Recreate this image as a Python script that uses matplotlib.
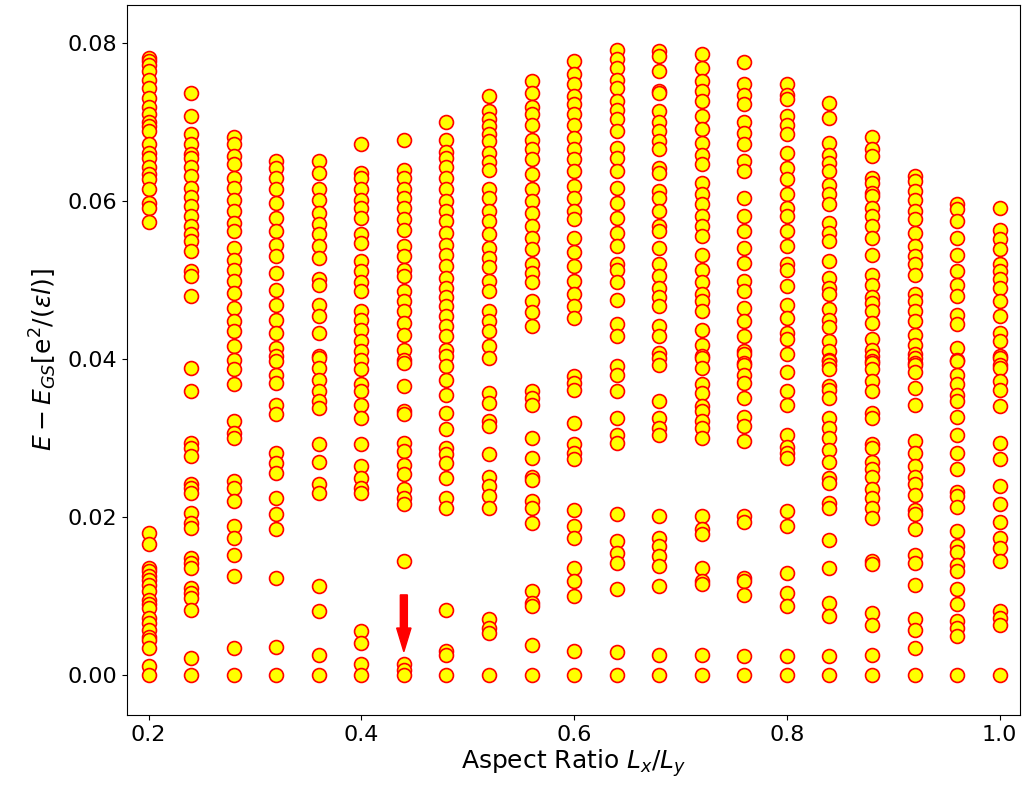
import numpy as np
import matplotlib
matplotlib.use("Agg")
import matplotlib.pyplot as plt

# energy levels above ground state, in units of 1e-3 e^2/(eps l)
e_020 = [78.2, 77.8, 77.3, 76.5, 75.4, 74.4, 73.1, 72.0, 71.0, 70.0, 69.5, 68.9, 67.2, 66.1,
         65.5, 64.4, 63.5, 62.8, 61.5, 59.8, 59.2, 57.4, 18.0, 16.5, 13.5, 13.1, 12.5, 12.0,
         11.4, 10.6, 9.5, 9.0, 8.5, 7.2, 6.6, 5.7, 4.8, 4.4, 3.4, 1.1, 0.0]
e_024 = [73.7, 70.8, 68.5, 67.2, 66.0, 65.5, 64.4, 63.2, 61.7, 60.5, 59.4, 58.1, 56.8, 55.8,
         54.9, 53.7, 51.1, 50.5, 48.0, 38.9, 35.9, 29.4, 28.7, 27.7, 24.1, 23.7, 23.0, 20.5,
         19.2, 18.6, 14.8, 14.2, 13.5, 11.0, 10.4, 9.7, 8.2, 2.1, 0.0]
e_028 = [68.2, 67.2, 65.7, 64.7, 63.0, 61.7, 60.2, 58.7, 57.3, 56.2, 54.1, 52.6, 51.3, 49.9,
         48.4, 46.5, 44.8, 43.5, 41.6, 39.9, 38.7, 36.8, 32.1, 30.6, 30.0, 24.5, 23.7, 22.0,
         18.8, 17.3, 15.2, 12.5, 3.4, 0.0]
e_032 = [65.1, 64.2, 63.0, 61.5, 59.8, 57.9, 56.2, 54.5, 53.0, 50.9, 48.8, 46.9, 45.0, 43.3,
         41.4, 40.4, 39.7, 38.0, 37.0, 34.2, 33.0, 28.1, 26.8, 25.6, 22.4, 20.3, 18.4, 12.3,
         3.5, 0.0]
e_036 = [65.1, 63.6, 61.5, 60.2, 58.5, 57.1, 55.8, 54.3, 52.8, 50.1, 49.4, 46.9, 45.4, 43.3,
         40.4, 40.1, 38.9, 37.4, 35.9, 34.7, 33.8, 29.2, 27.0, 24.1, 23.0, 11.2, 8.0, 2.5, 0.0]
e_040 = [67.2, 63.6, 63.0, 61.5, 60.2, 59.2, 57.9, 55.8, 54.7, 52.4, 51.1, 49.7, 48.6, 46.1,
         45.0, 43.7, 42.3, 41.0, 39.9, 38.7, 36.8, 35.9, 34.2, 32.5, 29.2, 26.4, 24.9, 23.7,
         23.0, 5.5, 4.0, 1.3, 0.0]
e_044 = [67.8, 64.0, 63.0, 61.5, 60.4, 59.2, 57.7, 56.4, 54.3, 53.0, 51.3, 50.5, 48.6, 47.3,
         46.1, 44.6, 43.1, 41.2, 39.9, 39.5, 36.6, 33.4, 33.0, 29.4, 28.3, 26.6, 25.4, 23.5,
         22.4, 21.6, 14.4, 1.3, 0.6, 0.0]
e_048 = [70.1, 67.8, 66.3, 65.5, 64.4, 63.0, 61.5, 60.0, 58.7, 57.5, 56.0, 54.5, 53.2, 51.8,
         50.3, 49.0, 47.8, 46.7, 45.4, 44.2, 42.9, 41.2, 40.4, 39.1, 37.4, 35.5, 33.2, 31.1,
         28.7, 27.9, 26.8, 24.9, 22.4, 21.1, 8.2, 3.0, 2.5, 0.0]
e_052 = [73.3, 71.4, 70.4, 69.5, 68.5, 67.6, 66.1, 65.0, 64.0, 61.5, 60.4, 58.7, 57.5, 55.8,
         54.1, 52.8, 51.6, 49.9, 48.6, 46.1, 44.8, 43.5, 41.6, 40.1, 35.7, 34.4, 32.1, 31.5,
         27.9, 25.1, 23.9, 22.6, 21.1, 7.0, 5.9, 5.3, 0.0]
e_056 = [75.2, 73.7, 72.0, 71.0, 69.7, 67.8, 66.6, 65.3, 63.4, 61.5, 60.0, 58.5, 56.8, 55.4,
         53.9, 52.0, 50.9, 49.7, 47.3, 45.9, 44.2, 35.9, 35.1, 34.2, 30.0, 27.5, 25.1, 24.7,
         22.0, 21.1, 19.2, 10.6, 9.1, 8.7, 3.8, 0.0]
e_060 = [77.8, 76.1, 74.8, 73.3, 72.3, 71.0, 69.7, 68.0, 66.6, 65.3, 63.8, 61.9, 60.4, 58.7,
         57.7, 55.4, 53.5, 51.8, 49.9, 48.2, 46.7, 45.2, 37.8, 37.0, 36.1, 31.9, 29.2, 28.1,
         27.3, 20.9, 18.8, 17.3, 13.5, 11.8, 9.9, 3.0, 0.0]
e_064 = [79.2, 78.0, 76.9, 75.4, 74.4, 72.7, 71.6, 70.4, 68.9, 66.8, 65.5, 63.8, 61.7, 59.8,
         57.9, 56.0, 54.3, 52.0, 51.3, 49.7, 47.5, 44.4, 42.9, 39.1, 38.0, 35.9, 32.5, 30.4,
         29.4, 20.3, 16.9, 15.4, 14.2, 10.8, 2.8, 0.0]
e_068 = [79.0, 78.4, 76.5, 74.0, 73.7, 71.4, 70.1, 68.9, 67.6, 66.6, 64.2, 63.6, 61.3, 60.4,
         58.7, 56.8, 56.2, 54.1, 52.0, 50.5, 49.0, 47.8, 46.7, 44.2, 42.9, 40.8, 40.1, 39.3,
         34.7, 32.5, 31.3, 30.4, 20.1, 17.3, 16.3, 15.0, 13.7, 11.2, 2.5, 0.0]
e_072 = [78.6, 76.9, 75.2, 74.0, 72.7, 70.8, 69.1, 67.4, 65.9, 64.7, 62.3, 60.9, 59.6, 58.1,
         56.8, 55.6, 53.2, 51.3, 49.7, 48.2, 47.3, 46.1, 43.7, 41.8, 40.4, 40.1, 38.9, 36.8,
         35.7, 34.0, 33.4, 32.1, 31.3, 30.0, 20.1, 18.4, 17.8, 13.5, 11.8, 11.5, 2.5, 0.0]
e_076 = [77.6, 74.8, 73.5, 72.3, 70.1, 68.7, 67.2, 65.1, 63.8, 60.4, 58.1, 56.2, 54.1, 52.2,
         49.9, 48.6, 46.5, 44.8, 42.9, 41.0, 40.6, 39.5, 39.3, 38.0, 37.0, 35.1, 32.7, 31.5,
         29.6, 20.1, 19.4, 12.3, 11.8, 10.1, 2.3, 0.0]
e_080 = [74.8, 73.5, 72.9, 70.8, 69.7, 68.5, 66.1, 64.2, 62.8, 60.9, 59.2, 58.1, 56.2, 54.3,
         52.0, 51.3, 49.2, 46.9, 45.2, 43.3, 42.5, 40.6, 38.3, 35.9, 34.2, 30.4, 28.9, 28.1,
         27.5, 20.7, 18.8, 12.9, 10.4, 8.7, 2.3, 0.0]
e_084 = [72.5, 70.6, 67.4, 65.9, 64.9, 63.8, 62.1, 60.9, 59.6, 57.3, 56.0, 54.9, 52.4, 50.3,
         49.0, 48.2, 46.3, 45.0, 44.0, 42.3, 41.0, 39.9, 39.7, 39.3, 38.7, 36.6, 36.1, 35.1,
         32.5, 31.3, 30.0, 28.5, 27.0, 24.9, 24.3, 21.8, 21.1, 17.1, 13.5, 9.1, 7.4, 2.3, 0.0]
e_088 = [68.2, 66.6, 65.7, 63.0, 62.3, 61.1, 60.6, 59.2, 58.1, 56.8, 55.4, 53.2, 50.7, 49.4,
         47.8, 47.1, 46.1, 44.6, 42.5, 41.2, 40.4, 39.7, 39.5, 38.7, 37.2, 35.9, 33.2, 32.5,
         29.2, 28.7, 27.0, 26.0, 25.1, 23.5, 22.4, 21.1, 19.9, 14.4, 14.0, 7.8, 6.3, 2.5, 0.0]
e_092 = [63.2, 62.5, 61.3, 60.2, 58.7, 57.7, 56.0, 54.3, 53.0, 52.0, 50.7, 48.2, 47.3, 46.1,
         44.8, 43.1, 41.8, 40.6, 40.1, 39.5, 39.3, 38.3, 36.3, 34.2, 29.6, 28.1, 26.4, 25.1,
         24.1, 22.8, 20.9, 20.3, 18.4, 15.2, 14.2, 11.4, 7.0, 5.7, 3.4, 0.0]
e_096 = [59.6, 59.0, 57.5, 55.4, 53.2, 51.1, 49.4, 48.0, 45.6, 44.4, 41.4, 39.9, 39.7, 38.0,
         36.8, 35.5, 34.7, 32.7, 30.4, 28.1, 26.0, 23.2, 22.6, 21.3, 18.2, 16.3, 15.6, 13.9,
         13.1, 10.8, 8.9, 6.8, 5.9, 4.9, 0.0]
e_100 = [59.2, 56.4, 55.2, 53.9, 52.0, 51.1, 50.1, 49.0, 47.3, 45.4, 43.3, 42.3, 40.4, 40.1,
         39.3, 38.9, 37.2, 36.1, 34.0, 29.4, 27.3, 23.9, 21.6, 19.4, 17.3, 16.1, 14.4, 8.0,
         7.2, 6.3, 0.0]

aspect = [0.20, 0.24, 0.28, 0.32, 0.36, 0.40, 0.44, 0.48, 0.52, 0.56, 0.60,
          0.64, 0.68, 0.72, 0.76, 0.80, 0.84, 0.88, 0.92, 0.96, 1.00]
levels = [e_020, e_024, e_028, e_032, e_036, e_040, e_044, e_048, e_052, e_056, e_060,
          e_064, e_068, e_072, e_076, e_080, e_084, e_088, e_092, e_096, e_100]

fig = plt.figure(figsize=(10.26, 7.96), dpi=100)
ax = fig.add_axes([0.124, 0.102, 0.870, 0.892])

for a, lev in zip(aspect, levels):
    E = np.array(lev) / 1000.0
    ax.scatter(np.full(len(E), a), E, s=100, facecolor='yellow', edgecolor='red',
               linewidth=1.2, zorder=2)

# arrow pointing at the near-degenerate ground states at 0.44
ax.arrow(0.44, 0.0101, 0, -0.0072, width=0.0066, head_width=0.0135, head_length=0.0030,
         length_includes_head=True, color='red', zorder=3)

ax.set_xlim(0.180, 1.019)
ax.set_ylim(-0.0051, 0.0849)
ax.set_xticks([0.2, 0.4, 0.6, 0.8, 1.0])
ax.set_yticks([0.0, 0.02, 0.04, 0.06, 0.08])
ax.set_yticklabels(['0.00', '0.02', '0.04', '0.06', '0.08'])
ax.tick_params(labelsize=16)
ax.set_xlabel(r'Aspect Ratio $L_x/L_y$', fontsize=18, labelpad=2)
ax.set_ylabel(r'$E - E_{GS}[\mathrm{e}^2/(\varepsilon l)]$', fontsize=18, labelpad=6)

fig.savefig('out.png', dpi=100)
